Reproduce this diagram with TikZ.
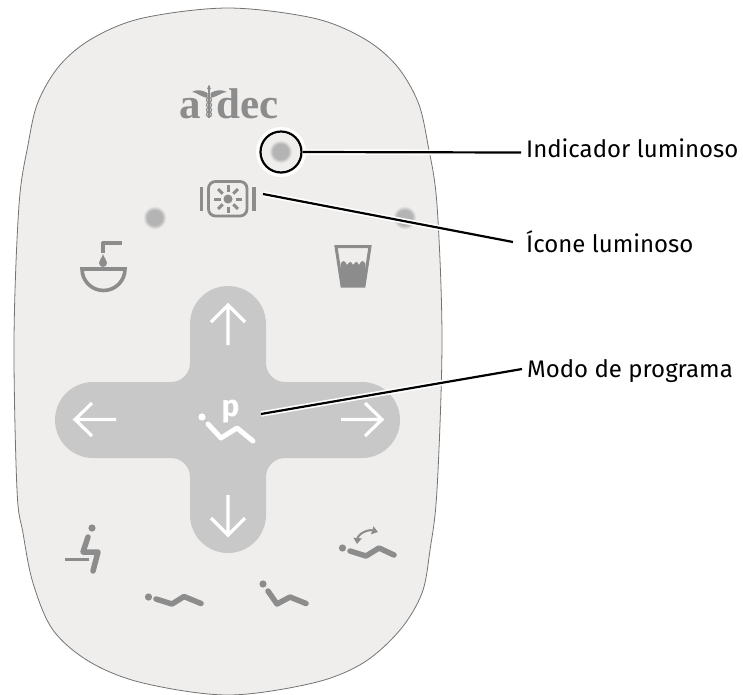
\documentclass[tikz,border=0pt]{standalone}
\usepackage{fontspec}
\setmainfont{Fira Sans}
\newfontfamily\logofont{Liberation Serif}
\usetikzlibrary{arrows.meta}
\definecolor{panel}{HTML}{EFEEED}
\definecolor{crossc}{HTML}{C8C8C8}
\definecolor{icon}{HTML}{8C8C8C}
\definecolor{ledc}{HTML}{B4B4B4}
\tikzset{
  iconline/.style={draw=icon,line width=5.5pt,line cap=round,line join=round},
  iconfill/.style={fill=icon,draw=none},
  arroww/.style={draw=white,line width=3.2pt,line join=miter},
  halo/.style={draw=white,line width=5.5pt},
  leader/.style={draw=black,line width=2.2pt},
  labeltext/.style={anchor=base west,inner sep=0pt,font=\fontsize{24}{28}\selectfont,text=black},
  logotext/.style={anchor=base west,inner sep=0pt,text=icon,font=\logofont\bfseries\fontsize{43}{45}\selectfont},
}
\newcommand{\ledspot}[2]{%
  \fill[ledc!15!panel] (#1,#2) circle (11.5pt);
  \fill[ledc!40!panel] (#1,#2) circle (10.5pt);
  \fill[ledc!70!panel] (#1,#2) circle (9.5pt);
  \fill[ledc!90!panel] (#1,#2) circle (8.5pt);
  \fill[ledc] (#1,#2) circle (7.5pt);
}
\begin{document}
\begin{tikzpicture}[x=1pt,y=-1pt]
\useasboundingbox (0,0) rectangle (743,694);
% panel outline
\clip (0,0) rectangle (743,694);
\draw[draw=black!55,line width=0.8pt,fill=panel] plot[smooth cycle,tension=0.55] coordinates {
  (228,8) (313,18) (363,38) (396,65) (418,102) (428,145) (437,205) (442,340)
  (437,490) (430,550) (422,593) (400,630) (363,663) (313,683) (228,695)
  (143,683) (90,662) (53,630) (33,583) (23,533) (17,490) (14,340)
  (19,205) (28,145) (38,102) (60,65) (93,38) (143,18)};
% logo
\node[logotext] (logoa) at (179,118) {a};
\node[logotext] (logod) at (216,118) {dec};
\draw[icon,line width=1.5pt] (209,86) -- (209,118);
\fill[icon] (209,84.5) -- (211,89) -- (207,89) -- cycle;
\fill[icon] (207.5,93) .. controls (202,90) and (197,89) .. (192,92) .. controls (196,92) and (199,96) .. (207.5,98) -- cycle;
\fill[icon] (210.5,93) .. controls (216,90) and (221,89) .. (227,92) .. controls (222,92) and (219,96) .. (210.5,98) -- cycle;
\foreach \yy in {100,105,110,114.5}
  \draw[icon,line width=1.2pt] (209,\yy) circle (2.5pt);
% LEDs
\ledspot{281}{152}
\ledspot{155}{218}
\ledspot{405}{218}
% illuminated icon
\draw[draw=icon,line width=2.8pt,rounded corners=7pt] (208.5,181.5) rectangle (247,216);
\draw[draw=icon,line width=3.6pt] (201.5,187) -- (201.5,211) (254,187) -- (254,211);
\fill[icon] (228,199) circle (4.5pt);
\foreach \a in {0,45,...,315}
  \draw[draw=icon,line width=3pt] (228,199) ++(\a:7.5pt) -- ++(\a:6.5pt);
% sink
\draw[iconline,line width=4pt,line cap=butt,line join=round] (103,253) -- (103,243) -- (121.5,243);
\fill[icon] (103,254) .. controls (104,258) and (107,260) .. (107,263) arc (0:-180:4pt) .. controls (99,260) and (102,258) .. (103,254) -- cycle;
\draw[draw=icon,line width=3.6pt] (82,269) -- (125,269) arc (0:-180:21.5pt) -- cycle;
% cup
\fill[icon] (340.5,264) .. controls (343,259) and (345,261) .. (347,265) .. controls (350,261) and (351,261) .. (353,265) .. controls (356,261) and (357,261) .. (359,265) .. controls (361,261) and (363,259) .. (365.5,264) -- (364,286) -- (342,286) -- cycle;
\draw[draw=icon,line width=3pt] (336,246.5) -- (370,246.5) -- (364,286) -- (342,286) -- cycle;
% cross
\fill[crossc]
  (228,286) arc (90:0:38pt) -- (266,363) arc (180:270:19pt) -- (362,382) arc (90:-90:38pt)
  -- (285,458) arc (90:180:19pt) -- (266,515) arc (0:-180:38pt)
  -- (190,477) arc (0:90:19pt) -- (93,458) arc (270:90:38pt)
  -- (171,382) arc (-90:0:19pt) -- (190,324) arc (180:90:38pt) -- cycle;
% arrows
\draw[arroww] (228,345) -- (228,305) (211,322) -- (228,305) -- (245,322);
\draw[arroww] (228,495) -- (228,535) (211,518) -- (228,535) -- (245,518);
\draw[arroww] (116,419.5) -- (75,419.5) (92,403) -- (75,419.5) -- (92,436);
\draw[arroww] (341,419.5) -- (382,419.5) (365,403) -- (382,419.5) -- (365,436);
% program chair
\fill[white] (202,417) circle (3.6pt);
\draw[draw=white,line width=5pt,line cap=round,line join=round] (208,424) -- (221,438) -- (237,428) -- (253,441);
\node[inner sep=0pt,anchor=base,text=white,font=\bfseries\fontsize{30}{32}\selectfont] (pmark) at (230.5,416) {p};
% bottom icons
\fill[icon] (92,528) circle (3.6pt);
\draw[iconline] (88,537) -- (83,552) -- (98,552) -- (93,571);
\draw[draw=icon,line width=3pt] (65,559) -- (89,559);
\fill[icon] (148.5,597) circle (3.6pt);
\draw[iconline] (156,599) -- (172,604) -- (184,596.5) -- (201,603.5);
\fill[icon] (263,584) circle (3.6pt);
\draw[iconline] (268,591) -- (277,604) -- (290,597) -- (306,603.5);
\fill[icon] (342.5,548) circle (3.6pt);
\draw[iconline] (350,551) -- (366,556) -- (379,548) -- (394,555);
\draw[draw=icon,line width=2pt,{Triangle[length=6pt,width=8pt]}-{Triangle[length=6pt,width=8pt]}] (357,544) .. controls (358,534) and (368,529) .. (378,532);
% ring and labels
\node[labeltext] (lab1) at (526,157) {Indicador luminoso};
\node[labeltext] (lab2) at (526,252) {Ícone luminoso};
\node[labeltext] (lab3) at (527,377) {Modo de programa};
\node[circle,draw=white,line width=6pt,minimum size=44pt,inner sep=0pt] (ringh) at (281,152) {};
\node[circle,draw=black,line width=2.2pt,minimum size=41pt,inner sep=0pt] (ring) at (281,152) {};
\coordinate (s2) at (263,194);
\coordinate (e2) at (513,242);
\coordinate (s3) at (261,414);
\coordinate (e3) at (522,369);
\coordinate (e1) at (521,152.5);
\draw[halo] (ring.east) -- (e1);
\draw[halo] (s2) -- (e2);
\draw[halo] (s3) -- (e3);
\draw[leader] (ring.east) -- (e1);
\draw[leader] (s2) -- (e2);
\draw[leader] (s3) -- (e3);
\end{tikzpicture}
\end{document}
